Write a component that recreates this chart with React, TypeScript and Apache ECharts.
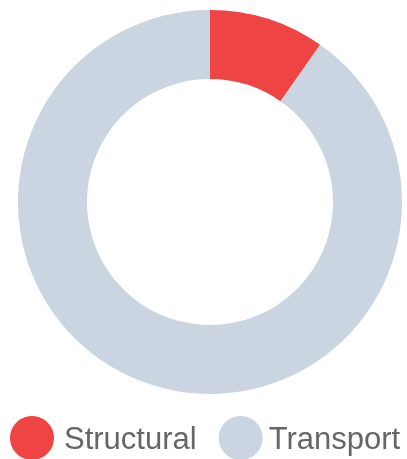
import React, { useEffect, useRef } from "react";
import * as echarts from "echarts";

const categories = ["Structural", "Transport"];
const values = [35, 325];
const colors = ["#EF4444", "#CBD5E1"];
const legendTextPad = [5, 1];

export default function App() {
  const ref = useRef<HTMLDivElement>(null);
  useEffect(() => {
    if (!ref.current) return;
    const chart = echarts.init(ref.current, undefined, { renderer: "svg" });
    chart.setOption({
      animation: false,
      legend: {
        data: categories.map((c, i) => ({
          name: c,
          textStyle: { padding: [0, 0, 0, legendTextPad[i]] },
        })),
        left: 10,
        top: 416,
        icon: "circle",
        itemWidth: 44,
        itemHeight: 44,
        itemGap: 22,
        padding: 0,
        textStyle: {
          fontSize: 31,
          color: "#666666",
          fontFamily: "Liberation Sans, Arial, sans-serif",
        },
      },
      series: [
        {
          type: "pie",
          center: [210, 202],
          radius: [123, 192],
          startAngle: 90,
          clockwise: true,
          label: { show: false },
          labelLine: { show: false },
          emphasis: { disabled: true },
          data: categories.map((c, i) => ({
            name: c,
            value: values[i],
            itemStyle: { color: colors[i] },
          })),
        },
      ],
    });
    return () => chart.dispose();
  }, []);
  return (
    <div
      ref={ref}
      style={{ position: "fixed", left: 0, top: 0, width: 407, height: 459 }}
    />
  );
}
